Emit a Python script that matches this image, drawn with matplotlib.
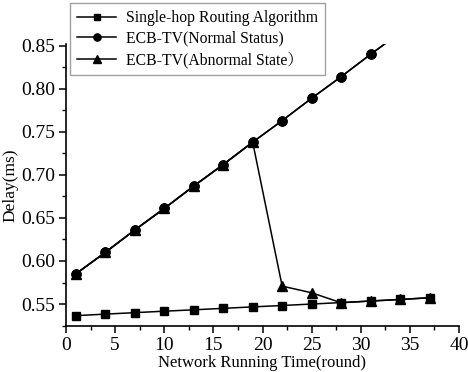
import matplotlib
matplotlib.use("Agg")
import matplotlib.pyplot as plt
from matplotlib.ticker import MultipleLocator

plt.rcParams['font.family'] = ['Liberation Serif', 'Noto Serif CJK SC', 'Noto Sans CJK SC', 'DejaVu Serif']
plt.rcParams['mathtext.fontset'] = 'stix'

x = [1, 4, 7, 10, 13, 16, 19, 22, 25, 28, 31, 34, 37]
single_hop = [0.5365, 0.5383, 0.5400, 0.5417, 0.5433, 0.5450, 0.5467, 0.5483, 0.5500, 0.5517, 0.5535, 0.5553, 0.5573]
x_normal = [1, 4, 7, 10, 13, 16, 19, 22, 25, 28, 31, 34]
normal = [0.585, 0.610, 0.636, 0.661, 0.687, 0.712, 0.738, 0.763, 0.789, 0.814, 0.840, 0.865]
abnormal = [0.585, 0.610, 0.636, 0.661, 0.687, 0.712, 0.738, 0.5708, 0.5631, 0.5515, 0.5535, 0.5553, 0.5573]

labels = ['Single-hop Routing Algorithm', 'ECB-TV(Normal Status)', 'ECB-TV(Abnormal State）']

fig = plt.figure(figsize=(4.68, 3.72), dpi=100)
ax = fig.add_axes([66/468, 1-326/372, (459-66)/468, (326-44)/372])

lw = 1.1
l1, = ax.plot(x, single_hop, color='black', marker='s', markersize=5.5, linewidth=lw)
l2, = ax.plot(x_normal, normal, color='black', marker='o', markersize=6.5, linewidth=lw)
l3, = ax.plot(x, abnormal, color='black', marker='^', markersize=6.5, linewidth=lw)
# redraw normal on top to hide triangle markers under circles
ax.plot(x_normal, normal, color='black', marker='o', markersize=6.5, linewidth=lw)

ax.set_xlim(0, 40)
ax.set_ylim(0.5245, 0.852)
ax.xaxis.set_major_locator(MultipleLocator(5))
ax.xaxis.set_minor_locator(MultipleLocator(2.5))
ax.yaxis.set_major_locator(MultipleLocator(0.05))
ax.yaxis.set_minor_locator(MultipleLocator(0.025))
ax.yaxis.set_major_formatter(matplotlib.ticker.FormatStrFormatter('%.2f'))

for s in ['top', 'right']:
    ax.spines[s].set_visible(False)
for s in ['left', 'bottom']:
    ax.spines[s].set_linewidth(1.2)
ax.tick_params(which='major', direction='out', length=5, width=1.1, labelsize=14, colors='black', pad=3)
ax.tick_params(which='minor', direction='out', length=3, width=1.0)

ax.set_xlabel('Network Running Time(round)', fontsize=12)
ax.set_ylabel('Delay(ms)', fontsize=12.5)
ax.xaxis.set_label_coords(0.5, (372 - 371) / 372 * 0 + (-(371 - 326) / (326 - 44)))
ax.xaxis.label.set_va('bottom')
ax.yaxis.set_label_coords(-(66 - 2) / (459 - 66), 0.5)
ax.yaxis.label.set_va('top')

leg = fig.legend([l1, l2, l3], labels, loc='upper left', bbox_to_anchor=(70/468, 1-3/372),
                 fontsize=11.3, frameon=True, fancybox=False, edgecolor='#888888',
                 handlelength=2.5, markerscale=0.8, borderpad=0.45, labelspacing=0.3,
                 handletextpad=0.6, borderaxespad=0)
leg.get_frame().set_linewidth(1.0)

fig.savefig('out.png', dpi=100)
